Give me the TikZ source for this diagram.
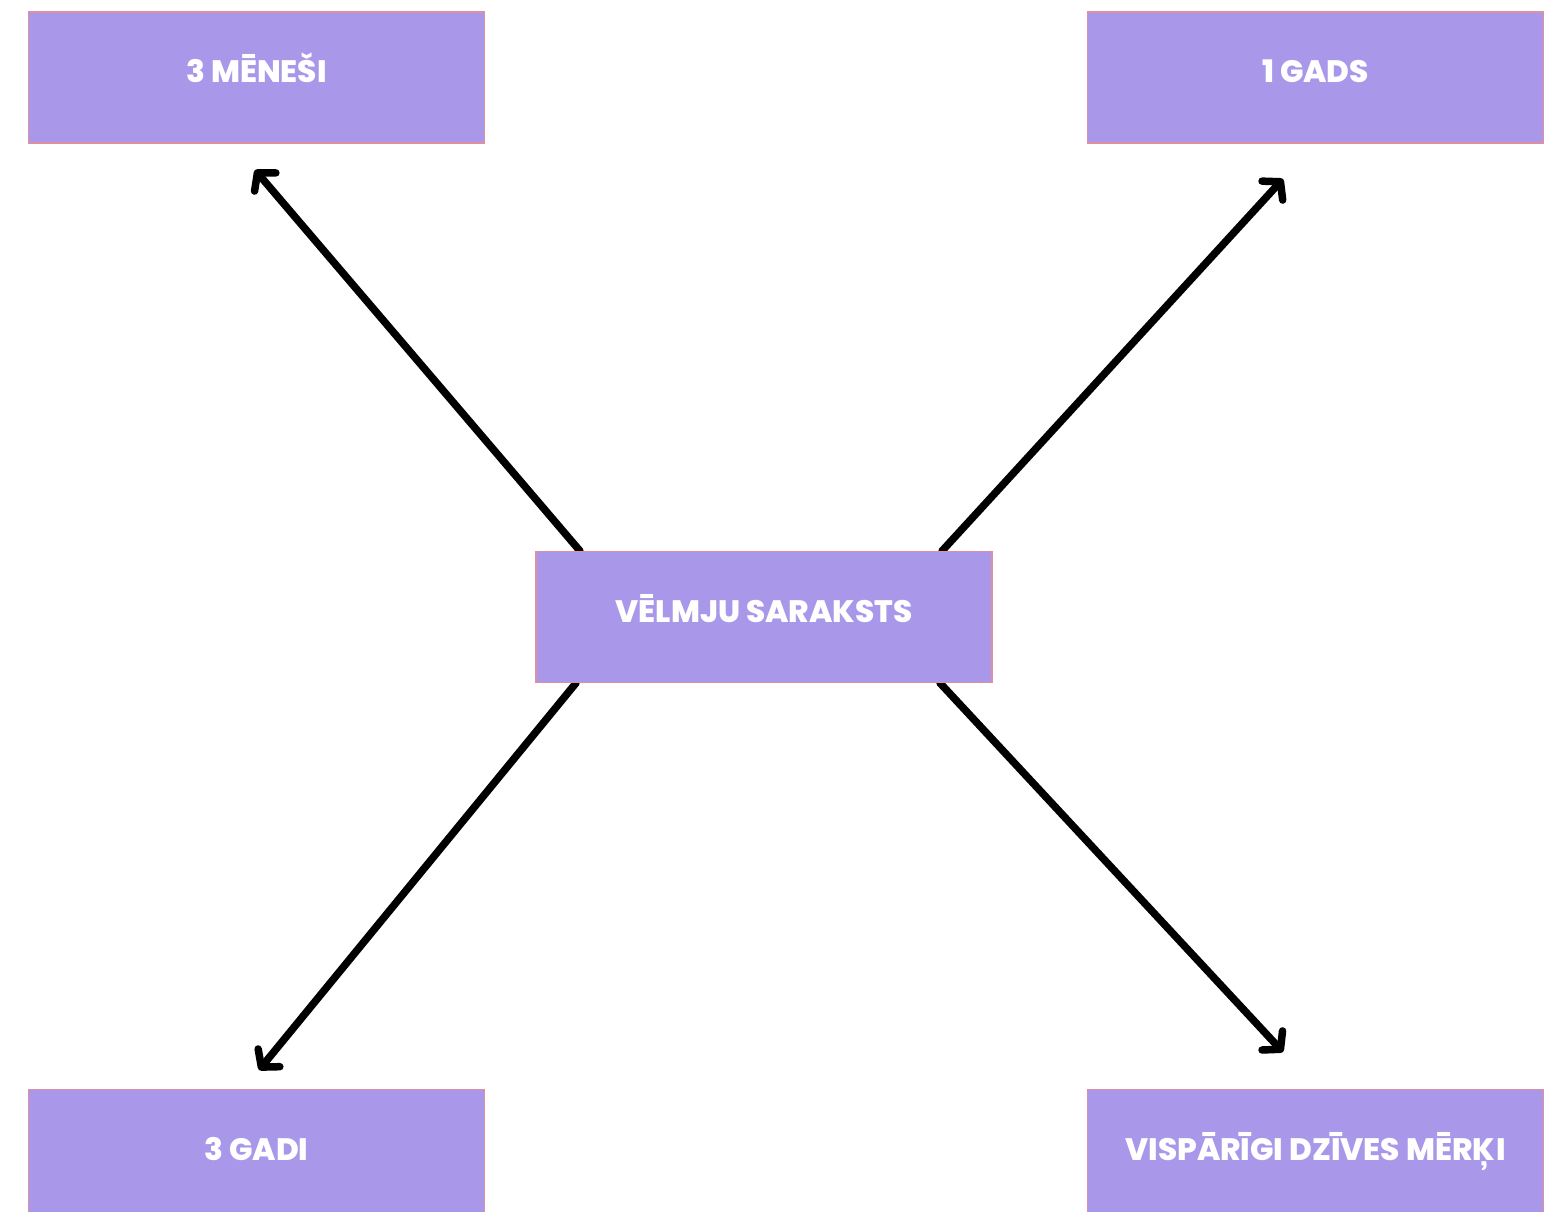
\documentclass[tikz,border=0pt]{standalone}
\usepackage{fontspec}
\setmainfont{Poppins}[BoldFont={Poppins ExtraBold}]
\usetikzlibrary{arrows.meta}
\definecolor{boxfill}{HTML}{A998E9}
\definecolor{boxline}{HTML}{E08FA0}
\tikzset{
  goalbox/.style={draw=boxline, line width=1.5pt, fill=boxfill, minimum width=456pt, minimum height=131pt,
    inner sep=0pt, text height=11pt, text depth=0pt, text=white, font=\fontsize{31}{34}\selectfont\bfseries},
  link/.style={line width=7.5pt, line cap=round, -{Straight Barb[length=12pt, width=28pt, round, line width=7.5pt]}}
}
\begin{document}
\begin{tikzpicture}[x=1pt, y=-1pt]
\useasboundingbox (0,0) rectangle (1553,1212);
\clip (0,0) rectangle (1553,1212);
\coordinate (s1) at (580,551);
\coordinate (s2) at (942,551);
\coordinate (s3) at (576,683);
\coordinate (s4) at (940,683);
\coordinate (t1) at (255,170);
\coordinate (t2) at (1283,179);
\coordinate (t3) at (259,1070);
\coordinate (t4) at (1283,1052);
\draw[link] (s1) -- (t1);
\draw[link] (s2) -- (t2);
\draw[link] (s3) -- (t3);
\draw[link] (s4) -- (t4);
\node[goalbox] (tl) at (256.5,77.5) {3 MĒNEŠI};
\node[goalbox] (tr) at (1315.5,77.5) {1 GADS};
\node[goalbox] (c) at (764,617) {VĒLMJU SARAKSTS};
\node[goalbox] (bl) at (256.5,1155) {3 GADI};
\node[goalbox] (br) at (1315.5,1155) {VISPĀRĪGI DZĪVES MĒRĶI};
\end{tikzpicture}
\end{document}
